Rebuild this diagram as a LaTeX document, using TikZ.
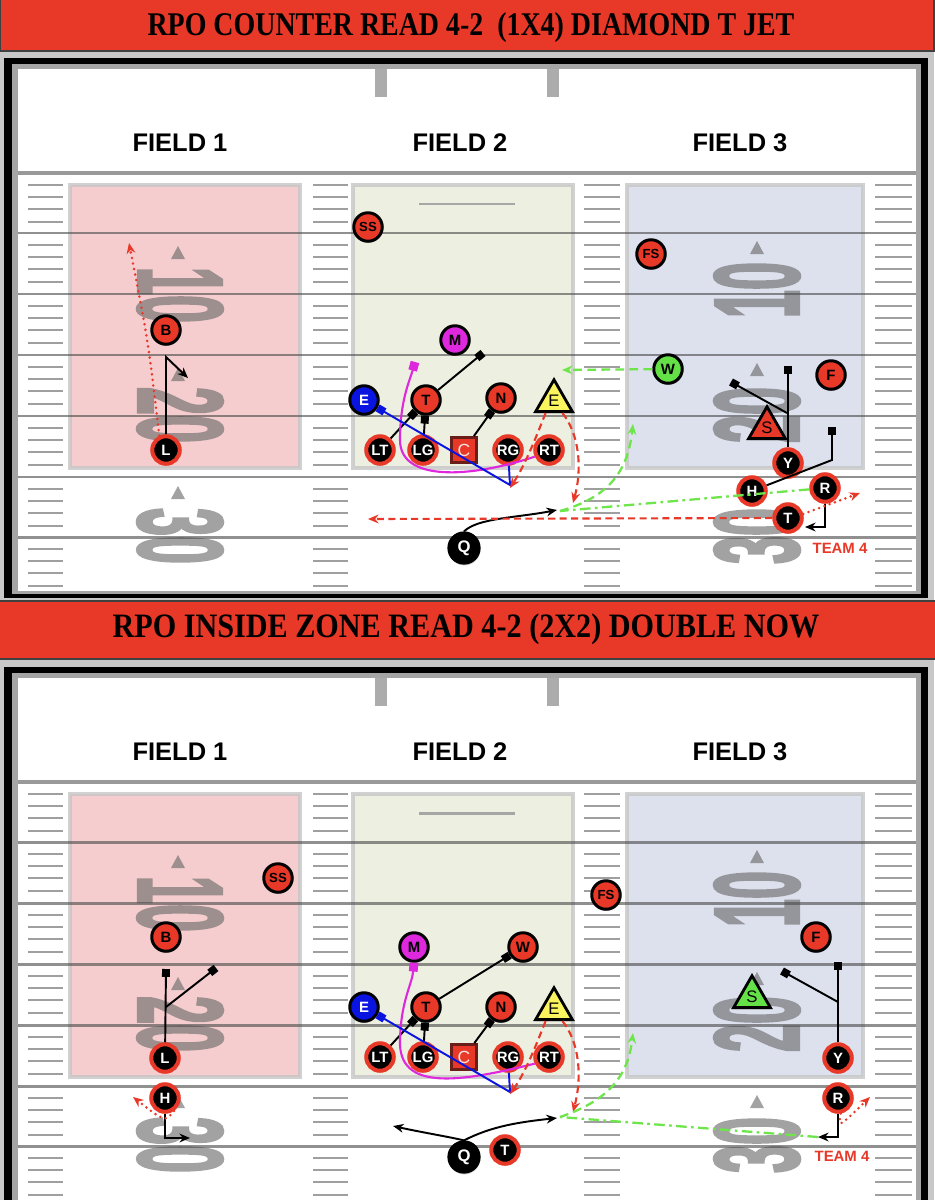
\documentclass[tikz,border=0pt]{standalone}
\usepackage{fontspec}
\setmainfont{Liberation Sans}
\newfontfamily\bannerfont{Liberation Serif}
\newfontfamily\yardfont[FakeBold=3]{Liberation Sans}
\usepackage{graphicx}
\usepackage{tikz}
\usetikzlibrary{arrows.meta,shapes.geometric,shadows}

\definecolor{pred}{RGB}{232,56,40}
\definecolor{pmag}{RGB}{222,40,222}
\definecolor{pblue}{RGB}{10,20,225}
\definecolor{pgreen}{RGB}{100,225,70}
\definecolor{pyel}{RGB}{250,245,95}
\definecolor{lgreen}{RGB}{110,230,75}
\definecolor{framelight}{RGB}{200,200,200}
\definecolor{framegray}{RGB}{165,165,165}
\definecolor{fpink}{RGB}{245,205,207}
\definecolor{folive}{RGB}{237,239,224}
\definecolor{fblue}{RGB}{221,225,237}
\definecolor{yardgray}{RGB}{105,105,105}
\definecolor{cbrown}{RGB}{105,30,25}

\tikzset{
  player/.style={circle, inner sep=0pt, font=\bfseries\fontsize{8.5}{8.5}\selectfont,
    drop shadow={opacity=0.35,shadow xshift=0.3pt,shadow yshift=-1pt}},
  offplayer/.style={player, fill=black, draw=pred, line width=2.3pt, minimum size=0.55cm, text=white},
  defplayer/.style={player, fill=pred, draw=black, line width=1.7pt, minimum size=0.57cm, text=black},
  dback/.style={defplayer, font=\bfseries\fontsize{7.5}{7.5}\selectfont},
  qback/.style={player, fill=black, draw=black, line width=1pt, minimum size=0.63cm, text=white,
    font=\bfseries\fontsize{9.5}{9.5}\selectfont},
  magplayer/.style={defplayer, fill=pmag},
  blueplayer/.style={defplayer, fill=pblue, text=white},
  greenplayer/.style={defplayer, fill=pgreen},
  triplayer/.style={regular polygon, regular polygon sides=3, minimum size=0.85cm, inner sep=0pt,
    draw=black, line width=1.6pt, font=\fontsize{9.5}{9.5}\selectfont,
    drop shadow={opacity=0.35,shadow xshift=0.3pt,shadow yshift=-1pt}},
  ctrbox/.style={rectangle, minimum width=0.5cm, minimum height=0.5cm, inner sep=0pt, fill=pred,
    draw=cbrown, line width=1.6pt, text=white!85!pred, font=\fontsize{10}{10}\selectfont,
    drop shadow={opacity=0.35,shadow xshift=0.3pt,shadow yshift=-1pt}},
  teamlabel/.style={text=pred, font=\bfseries\fontsize{8.5}{8.5}\selectfont},
  fieldlabel/.style={font=\bfseries\fontsize{14.5}{14.5}\selectfont},
  yard/.style={inner sep=0pt, text=yardgray, font=\yardfont\bfseries},
  yardmark/.style={fill=yardgray},
  hash/.style={draw=gray!75, line width=1.5pt},
  bandline/.style={draw=black!70, draw opacity=0.62, line width=1.7pt},
  headline/.style={draw=gray!80, line width=2.2pt},
  fieldbox/.style={draw=gray!45, draw opacity=0.8, line width=2.8pt},
  route/.style={draw=black, line width=1.1pt},
  block/.style={route, -{Square[length=4.5pt,width=4.5pt]}},
  runarrow/.style={route, -{Stealth[length=6pt,width=5pt]}},
  pullpath/.style={draw=pblue, line width=1.1pt, -{Square[length=4.5pt,width=4.5pt]}},
  kickpath/.style={draw=pmag, line width=1.2pt, -{Square[length=5pt,width=5pt]}},
  reddash/.style={draw=pred, line width=1.2pt, dash pattern=on 4pt off 2.5pt, -{Stealth[length=6pt,width=5pt]}},
  reddot/.style={draw=pred, line width=1.6pt, line cap=round, dash pattern=on 0pt off 3.2pt,
    -{Stealth[length=6pt,width=5pt]}},
  greendash/.style={draw=lgreen, line width=1.3pt, dash pattern=on 5pt off 3pt},
  greendot/.style={draw=lgreen, line width=1.3pt, dash pattern=on 6pt off 2.5pt on 1.5pt off 2.5pt},
}

\begin{document}
\begin{tikzpicture}[x=0.02cm,y=-0.02cm]
\useasboundingbox (0,0) rectangle (934,1200);
\fill[framelight] (0,0) rectangle (934,1200);

% the two fields
\foreach \o in {0,609}{
  \fill[black] (4,58+\o) rectangle (928,598+\o);
  \fill[framegray] (12,64+\o) rectangle (921,594+\o);
  \fill[white] (18,69+\o) rectangle (916,591+\o);
  \draw[headline] (18,173+\o) -- (916,173+\o);
  \draw[draw=gray!65, line width=6.5pt] (381,69+\o) -- (381,97+\o);
  \draw[draw=gray!65, line width=6.5pt] (553,69+\o) -- (553,97+\o);
  \node[fieldlabel] (fa\o) at (180,143+\o) {FIELD 1};
  \node[fieldlabel] (fb\o) at (460,143+\o) {FIELD 2};
  \node[fieldlabel] (fc\o) at (740,143+\o) {FIELD 3};
  \filldraw[fieldbox, fill=fpink] (70,185+\o) rectangle (300,468+\o);
  \filldraw[fieldbox, fill=folive] (353,185+\o) rectangle (573,468+\o);
  \filldraw[fieldbox, fill=fblue] (627,185+\o) rectangle (863,468+\o);
  \draw[draw=gray!70, line width=1.7pt] (419,204+\o) -- (515,204+\o);
  \begin{scope}[transparency group, opacity=0.62]
    \foreach \yy/\num in {295/10,415/20,536/30}
      \node[yard, rotate=-90] (ya\num-\o) at (180,\yy+\o) {\resizebox*{1.12cm}{1.7cm}{\num}};
    \foreach \yy/\num in {290/10,415/20,536/30}
      \node[yard, rotate=90] (yc\num-\o) at (757,\yy+\o) {\resizebox*{1.12cm}{1.7cm}{\num}};
    \foreach \yy in {253,375,493}
      \fill[yardmark] (178,\yy-7+\o) -- (171,\yy+6+\o) -- (185,\yy+6+\o) -- cycle;
    \foreach \yy in {248,370,493}
      \fill[yardmark] (757,\yy-7+\o) -- (750,\yy+6+\o) -- (764,\yy+6+\o) -- cycle;
  \end{scope}
  \foreach \t in {175,235,296,357,418,479,539}
    \foreach \d in {10,22,34,47}
      \foreach \xa/\xb in {28/63,313/348,584/620,875/912}
        \draw[hash] (\xa,\t+\d+\o) -- (\xb,\t+\d+\o);
  \foreach \ly in {233,294,355,416,477,537}
    \draw[bandline] (18,\ly+\o) -- (916,\ly+\o);
}

% banners
\filldraw[fill=pred, draw=black!75, line width=1pt] (0,-2) rectangle (934,51);
\node (title1) at (471,28) {\resizebox*{12.94cm}{0.6cm}{\bannerfont\bfseries RPO COUNTER READ 4-2\ \ (1X4) DIAMOND T JET}};
\filldraw[fill=pred, draw=black!75, line width=1pt] (-2,601) rectangle (936,659);
\node (title2) at (466,629) {\resizebox*{14.14cm}{0.62cm}{\bannerfont\bfseries RPO INSIDE ZONE READ 4-2 (2X2) DOUBLE NOW}};

% ---- counter read
\node[defplayer] (aB) at (166,330) {B};
\node[offplayer] (aL) at (166,450) {L};
\node[dback] (aSS) at (368,227) {SS};
\node[magplayer] (aM) at (455,340) {M};
\node[blueplayer] (aE) at (364,400) {E};
\node[defplayer] (aT) at (426,400) {T};
\node[defplayer] (aN) at (501,398) {N};
\node[offplayer] (aLT) at (380,450) {LT};
\node[offplayer] (aLG) at (423,450) {LG};
\node[ctrbox] (aC) at (464,450) {C};
\node[offplayer] (aRG) at (508,450) {RG};
\node[offplayer] (aRT) at (549,450) {RT};
\node[triplayer, fill=pyel] (aEnd) at (554,401) {E};
\node[qback] (aQ) at (464,548) {Q};
\node[dback] (aFS) at (651,254) {FS};
\node[greenplayer] (aW) at (668,369) {W};
\node[defplayer] (aF) at (831,375) {F};
\node[triplayer, fill=pred] (aS) at (767,428) {S};
\node[offplayer] (aY) at (788,463) {Y};
\node[offplayer] (aH) at (752,491) {H};
\node[offplayer] (aR) at (825,488) {R};
\node[offplayer] (aTE) at (788,518) {T};
\node[teamlabel] (aTeam) at (840,548) {TEAM 4};

\coordinate (aLk) at (166,357);
\coordinate (aLe) at (188,378);
\coordinate (aLd) at (129,243);
\coordinate (aTb) at (483,353);
\coordinate (aRGp) at (510,485);
\coordinate (aMp) at (415,362);
\coordinate (aEl) at (510,488);
\coordinate (aEr) at (573,503);
\coordinate (aQe) at (557,510);
\coordinate (aTl) at (368,519);
\coordinate (aRm) at (560,511);
\coordinate (aRup) at (633,424);
\coordinate (aWe) at (562,370);
\coordinate (aYs) at (788,366);
\coordinate (aYb) at (787,413);
\coordinate (aYo) at (731,382);
\coordinate (aHk) at (832,460);
\coordinate (aHs) at (832,427);
\coordinate (aRk) at (825,527);
\coordinate (aRe) at (805,527);
\coordinate (aTd) at (860,493);

\draw[runarrow] (aL) -- (aLk) -- (aLe);
\draw[reddot] (aL.115) .. controls (148,340) .. (aLd);
\draw[block] (aLT) -- (aT);
\draw[block] (aLG) -- (aT);
\draw[block] (aT) -- (aTb);
\draw[block] (aC) -- (aN);
\draw[kickpath] (aRT.205) .. controls (470,478) and (400,482) .. (400,440) .. controls (400,400) and (410,380) .. (aMp);
\draw[pullpath] (aRG) -- (aRGp) -- (aE);
\draw[reddash] (aEnd.-125) .. controls (535,440) and (525,465) .. (aEl);
\draw[reddash] (aEnd.-55) .. controls (580,435) and (582,470) .. (aEr);
\draw[runarrow] (aQ.north) .. controls (478,518) and (515,518) .. (aQe);
\draw[reddash] (aTE) -- (aTl);
\draw[greendot] (aR) -- (aRm);
\draw[greendash, -{Stealth[length=6pt,width=5pt]}] (aRm) .. controls (610,497) and (628,470) .. (aRup);
\draw[greendash, -{Stealth[length=6pt,width=5pt]}] (aW) -- (aWe);
\draw[block] (aY) -- (aYs);
\draw[block] (aYb) -- (aYo);
\draw[block] (aH) -- (aHk) -- (aHs);
\draw[runarrow] (aR) -- (aRk) -- (aRe);
\draw[reddot] (aTE.15) -- (aTd);

% ---- inside zone read
\node[dback] (bSS) at (278,878) {SS};
\node[defplayer] (bB) at (166,937) {B};
\node[offplayer] (bL) at (165,1058) {L};
\node[offplayer] (bH) at (165,1098) {H};
\node[magplayer] (bM) at (414,947) {M};
\node[defplayer] (bW) at (523,947) {W};
\node[blueplayer] (bE) at (364,1007) {E};
\node[defplayer] (bT) at (426,1007) {T};
\node[defplayer] (bN) at (501,1007) {N};
\node[offplayer] (bLT) at (380,1057) {LT};
\node[offplayer] (bLG) at (423,1057) {LG};
\node[ctrbox] (bC) at (464,1057) {C};
\node[offplayer] (bRG) at (508,1057) {RG};
\node[offplayer] (bRT) at (549,1057) {RT};
\node[triplayer, fill=pyel] (bEnd) at (554,1009) {E};
\node[qback] (bQ) at (464,1157) {Q};
\node[offplayer] (bTE) at (505,1150) {T};
\node[dback] (bFS) at (606,895) {FS};
\node[defplayer] (bF) at (816,937) {F};
\node[triplayer, fill=pgreen] (bS) at (752,997) {S};
\node[offplayer] (bY) at (838,1058) {Y};
\node[offplayer] (bR) at (838,1098) {R};
\node[teamlabel] (bTeam) at (842,1156) {TEAM 4};

\coordinate (bLs) at (166,969);
\coordinate (bLb) at (166,1007);
\coordinate (bLo) at (216,968);
\coordinate (bHk) at (165,1138);
\coordinate (bHe) at (190,1138);
\coordinate (bHd) at (133,1097);
\coordinate (bRGp) at (510,1092);
\coordinate (bEl) at (510,1094);
\coordinate (bEr) at (573,1112);
\coordinate (bQl) at (393,1126);
\coordinate (bQr) at (557,1118);
\coordinate (bGm) at (560,1117);
\coordinate (bGup) at (633,1033);
\coordinate (bRk) at (838,1137);
\coordinate (bRe) at (818,1137);
\coordinate (bYs) at (838,962);
\coordinate (bYb) at (838,1002);
\coordinate (bYo) at (782,971);
\coordinate (bRd) at (870,1097);

\draw[block] (bL) -- (bLs);
\draw[block] (bLb) -- (bLo);
\draw[runarrow] (bH) -- (bHk) -- (bHe);
\draw[reddot] (bH.-55) .. controls (165,1122) .. (bHd);
\draw[block] (bLT) -- (bT);
\draw[block] (bLG) -- (bT);
\draw[block] (bT) -- (bW);
\draw[block] (bC) -- (bN);
\draw[kickpath] (bRT.205) .. controls (460,1082) and (398,1092) .. (400,1040) .. controls (401,1000) and (412,985) .. (bM.south);
\draw[pullpath] (bRG) -- (bRGp) -- (bE);
\draw[reddash] (bEnd.-125) .. controls (535,1048) and (525,1073) .. (bEl);
\draw[reddash] (bEnd.-55) .. controls (580,1043) and (582,1078) .. (bEr);
\draw[runarrow] (bQ.north) .. controls (450,1137) and (420,1132) .. (bQl);
\draw[runarrow] (bQ.north) .. controls (492,1126) and (520,1122) .. (bQr);
\draw[runarrow] (bR) -- (bRk) -- (bRe);
\draw[greendot] (bRe) -- (bGm);
\draw[greendash, -{Stealth[length=6pt,width=5pt]}] (bGm) .. controls (610,1100) and (628,1075) .. (bGup);
\draw[block] (bY) -- (bYs);
\draw[block] (bYb) -- (bYo);
\draw[reddot] (bR.-80) .. controls (838,1128) .. (bRd);
\end{tikzpicture}
\end{document}
